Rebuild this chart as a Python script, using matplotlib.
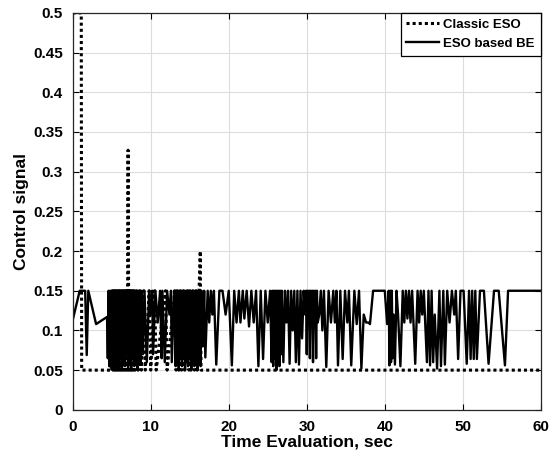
import numpy as np
import matplotlib
matplotlib.use("Agg")
import matplotlib.pyplot as plt

plt.rcParams['font.family'] = ['Liberation Sans', 'DejaVu Sans']
plt.rcParams['font.weight'] = 'bold'

# Classic ESO control signal (time, value)
t_classic = [0, 1.1, 1.15, 4.8, 4.9, 5.0, 5.1, 5.2, 5.3, 5.4, 5.5, 5.6, 5.7, 5.8,
             5.9, 6.0, 6.1, 6.2, 6.3, 6.4, 6.5, 6.6, 6.7, 6.8, 6.9, 7.0, 7.1, 7.2,
             7.3, 7.4, 7.5, 7.6, 7.7, 7.8, 7.9, 8.0, 8.2, 8.4, 8.6, 8.8, 9.1, 9.3,
             9.8, 10.0, 10.5, 10.7, 11.9, 12.1, 13.1, 13.25, 13.4, 13.6, 13.8, 13.95,
             14.2, 14.35, 14.7, 14.9, 15.0, 15.15, 15.4, 15.6, 15.8, 15.95, 16.2,
             16.35, 16.45, 60]
u_classic = [0.5, 0.5, 0.05, 0.05, 0.15, 0.05, 0.15, 0.05, 0.15, 0.05, 0.15, 0.05,
             0.15, 0.05, 0.15, 0.05, 0.15, 0.05, 0.15, 0.05, 0.15, 0.05, 0.15, 0.05,
             0.15, 0.05, 0.327, 0.05, 0.15, 0.05, 0.15, 0.05, 0.15, 0.05, 0.15, 0.05,
             0.15, 0.05, 0.15, 0.05, 0.15, 0.05, 0.15, 0.05, 0.15, 0.05, 0.15, 0.05,
             0.15, 0.05, 0.15, 0.05, 0.15, 0.05, 0.15, 0.05, 0.15, 0.05, 0.15, 0.05,
             0.15, 0.05, 0.15, 0.05, 0.15, 0.2, 0.05, 0.05]

# ESO based BE control signal (time, value)
t_be = [0, 0.9, 1.6, 1.8, 2.0, 3.0, 4.4, 4.5,
        4.6, 4.7, 4.8, 4.9, 5.0, 5.1, 5.2, 5.3, 5.4, 5.5, 5.6, 5.7, 5.8, 5.9,
        6.0, 6.1, 6.2, 6.3, 6.4, 6.5, 6.6, 6.7, 6.8, 6.9, 7.0, 7.1, 7.2, 7.3,
        7.4, 7.5, 7.6, 7.7, 7.8, 7.9, 8.0, 8.1, 8.2, 8.3, 8.4, 8.5, 8.6, 8.7, 8.8,
        9.0, 9.2, 9.5, 9.8, 10.0, 10.2, 10.3, 10.6, 10.9, 11.2, 11.4, 11.5, 11.8,
        12.1, 12.4, 12.6, 12.7, 13.0,
        13.2, 13.3, 13.4, 13.5, 13.6, 13.7, 13.8, 13.9, 14.0, 14.1, 14.2, 14.3,
        14.4, 14.5, 14.6, 14.7, 14.8, 14.9, 15.0, 15.1, 15.2, 15.3, 15.4, 15.5,
        15.6, 15.7, 15.8, 15.9, 16.0, 16.1, 16.2, 16.3, 16.4, 16.5, 16.7, 16.85,
        17.0, 17.3, 17.5, 17.7, 17.9, 18.1, 18.4, 18.8, 19.2, 19.6, 20.0, 20.4,
        20.7, 21.0, 21.3, 21.5, 21.8, 22.0, 22.3, 22.6, 22.9, 23.2, 23.5, 23.8,
        24.1, 24.4, 24.7, 25.0, 25.3,
        25.5, 25.6, 25.7, 25.8, 25.9, 26.0, 26.1, 26.2, 26.3, 26.4, 26.5, 26.6,
        26.7, 26.8, 27.0, 27.2, 27.4, 27.6, 27.8, 28.0, 28.2, 28.4, 28.6, 28.8,
        29.0, 29.2, 29.4, 29.6,
        29.8, 29.9, 30.0, 30.1, 30.2, 30.3, 30.4, 30.5, 30.6, 30.7, 30.8, 30.9,
        31.0, 31.1, 31.2, 31.3, 31.4,
        31.6, 31.8, 32.0, 32.2, 32.5, 32.8, 33.1, 33.4, 33.6, 33.8, 34.0, 34.3,
        34.6, 34.9, 35.2, 35.4, 35.7, 36.1, 36.4, 36.7, 37.0, 37.3, 37.6, 37.9,
        38.1, 38.5, 40.0, 40.3, 40.5, 40.6, 40.7, 40.8, 40.9, 41.0, 41.1, 41.3,
        41.5, 41.7, 42.0, 42.3, 42.5, 42.7, 42.9, 43.1, 43.3, 43.5, 43.9, 44.2,
        44.4, 44.6, 44.8, 45.0, 45.4, 45.6, 45.8, 46.0, 46.2, 46.4, 46.7, 47.0,
        47.2, 47.5, 47.7, 48.0, 48.3, 48.6, 48.9, 49.1, 49.4, 49.7, 50.1, 50.5,
        50.8, 51.0, 51.2, 51.4, 51.6, 51.8, 52.2, 52.7, 53.3, 54.0, 54.6, 55.4,
        55.8, 60]
u_be = [0.113, 0.15, 0.15, 0.069, 0.15, 0.108, 0.117, 0.065,
        0.15, 0.055, 0.15, 0.06, 0.15, 0.05, 0.15, 0.07, 0.15, 0.05, 0.14, 0.06,
        0.15, 0.05, 0.15, 0.065, 0.15, 0.05, 0.15, 0.06, 0.15, 0.055, 0.15, 0.07,
        0.15, 0.05, 0.15, 0.06, 0.15, 0.05, 0.15, 0.065, 0.15, 0.055, 0.15, 0.06,
        0.15, 0.05, 0.15, 0.07, 0.15, 0.06, 0.15,
        0.07, 0.15, 0.06, 0.15, 0.12, 0.15, 0.07, 0.15, 0.11, 0.15, 0.065, 0.15, 0.06,
        0.15, 0.12, 0.15, 0.06, 0.15,
        0.055, 0.15, 0.06, 0.15, 0.05, 0.15, 0.07, 0.15, 0.055, 0.15, 0.065, 0.15,
        0.05, 0.15, 0.06, 0.15, 0.055, 0.15, 0.07, 0.15, 0.05, 0.15, 0.06, 0.15,
        0.055, 0.15, 0.065, 0.15, 0.05, 0.15, 0.06, 0.15, 0.055, 0.15, 0.08, 0.15,
        0.066, 0.15, 0.11, 0.15, 0.12, 0.15, 0.057, 0.15, 0.15, 0.12, 0.15, 0.056,
        0.15, 0.11, 0.15, 0.11, 0.15, 0.115, 0.15, 0.105, 0.15, 0.11, 0.15, 0.055,
        0.15, 0.064, 0.15, 0.11, 0.15,
        0.06, 0.15, 0.055, 0.15, 0.065, 0.15, 0.05, 0.15, 0.06, 0.15, 0.055, 0.15,
        0.07, 0.15, 0.06, 0.15, 0.11, 0.15, 0.058, 0.15, 0.10, 0.15, 0.06, 0.15,
        0.057, 0.15, 0.09, 0.15,
        0.12, 0.15, 0.07, 0.15, 0.12, 0.15, 0.065, 0.15, 0.11, 0.15, 0.06, 0.15,
        0.12, 0.15, 0.065, 0.15, 0.11,
        0.12, 0.15, 0.10, 0.15, 0.054, 0.15, 0.11, 0.15, 0.11, 0.15, 0.056, 0.15,
        0.064, 0.15, 0.11, 0.15, 0.056, 0.15, 0.108, 0.15, 0.052, 0.12, 0.11, 0.11,
        0.108, 0.15, 0.15, 0.108, 0.15, 0.056, 0.15, 0.06, 0.15, 0.065, 0.12, 0.057,
        0.15, 0.12, 0.055, 0.15, 0.11, 0.15, 0.115, 0.15, 0.11, 0.15, 0.058, 0.15,
        0.11, 0.15, 0.12, 0.15, 0.06, 0.15, 0.056, 0.15, 0.06, 0.12, 0.052, 0.15,
        0.055, 0.15, 0.057, 0.15, 0.11, 0.15, 0.12, 0.15, 0.064, 0.15, 0.15, 0.058,
        0.15, 0.064, 0.15, 0.064, 0.15, 0.064, 0.15, 0.15, 0.058, 0.15, 0.15, 0.056,
        0.15, 0.15]

fig = plt.figure(figsize=(5.57, 4.61), dpi=100)
ax = fig.add_axes([0.1305, 0.111, 0.8405, 0.861])

ax.plot(t_classic, u_classic, color='k', linestyle=(0, (1, 1)), linewidth=2.2,
        label='Classic ESO')
ax.plot(t_be, u_be, color='k', linestyle='-', linewidth=1.7,
        label='ESO based BE')

ax.set_xlim(0, 60)
ax.set_ylim(0, 0.5)
ax.set_xticks(np.arange(0, 61, 10))
ax.set_yticks(np.arange(0, 0.501, 0.05))
ax.set_yticklabels(['0', '0.05', '0.1', '0.15', '0.2', '0.25', '0.3', '0.35',
                    '0.4', '0.45', '0.5'])
ax.grid(True, color='#dcdcdc', linewidth=0.8)
ax.set_axisbelow(True)
ax.tick_params(direction='in', top=True, right=True, length=4, width=0.8,
               labelsize=11, pad=7)
for lbl in ax.get_xticklabels() + ax.get_yticklabels():
    lbl.set_fontweight('bold')
for s in ax.spines.values():
    s.set_linewidth(0.9)
    s.set_color('#262626')

ax.set_xlabel('Time Evaluation, sec', fontsize=12.5, fontweight='bold', labelpad=1)
ax.set_ylabel('Control signal', fontsize=12.5, fontweight='bold', labelpad=3)

leg = ax.legend(loc='upper right', fontsize=9.5, handlelength=2.5, fancybox=False,
                framealpha=1, edgecolor='k', borderaxespad=0.0,
                borderpad=0.45, labelspacing=0.5, handletextpad=0.3)
leg.get_frame().set_linewidth(0.9)
for txt in leg.get_texts():
    txt.set_fontweight('bold')

fig.savefig('out.png', dpi=100)
